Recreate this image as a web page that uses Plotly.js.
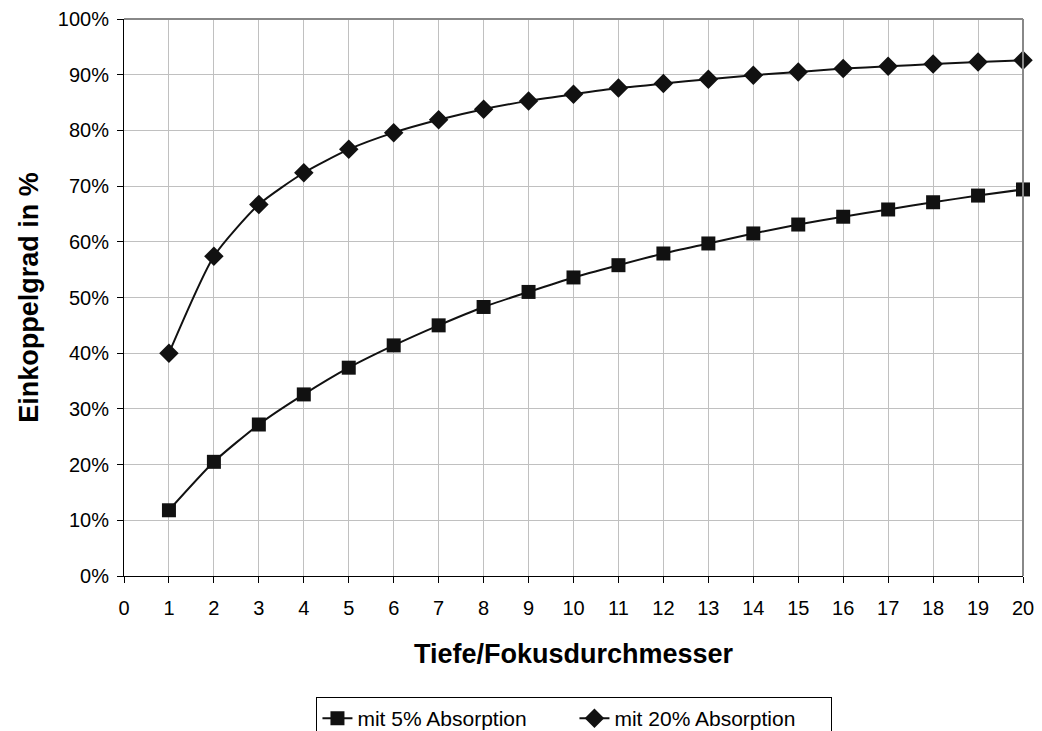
<!DOCTYPE html>
<html>
<head>
<meta charset="utf-8">
<script src="https://cdn.plot.ly/plotly-3.0.1.min.js"></script>
<style>html,body{margin:0;padding:0;background:#fff;}#chart{width:1042px;height:731px;}</style>
</head>
<body>
<div id="chart"></div>
<script>
const depth = [1,2,3,4,5,6,7,8,9,10,11,12,13,14,15,16,17,18,19,20];
const abs5 = [11.8,20.5,27.2,32.6,37.4,41.4,45.0,48.3,51.0,53.6,55.8,57.9,59.7,61.5,63.1,64.5,65.8,67.1,68.3,69.4];
const abs20 = [40.0,57.4,66.7,72.4,76.6,79.6,81.9,83.8,85.3,86.5,87.6,88.4,89.2,89.9,90.5,91.1,91.5,91.9,92.3,92.6];
const seriesNames = ['mit 5% Absorption','mit 20% Absorption'];
const xTitle = 'Tiefe/Fokusdurchmesser';
const yTitle = 'Einkoppelgrad in %';

const font = 'Arial, "Liberation Sans", sans-serif';
const traces = [
  {x: depth, y: abs5, name: seriesNames[0], type: 'scatter', mode: 'lines+markers',
   line: {color: '#111', width: 2, shape: 'spline', smoothing: 0.6},
   marker: {symbol: 'square', size: 14, color: '#111'}, cliponaxis: false},
  {x: depth, y: abs20, name: seriesNames[1], type: 'scatter', mode: 'lines+markers',
   line: {color: '#111', width: 2, shape: 'spline', smoothing: 0.6},
   marker: {symbol: 'diamond', size: 15, color: '#111'}, cliponaxis: false}
];
const layout = {
  width: 1042, height: 731,
  margin: {l: 124, r: 19, t: 19, b: 155},
  paper_bgcolor: '#fff', plot_bgcolor: '#fff',
  font: {family: font, color: '#000', size: 20},
  showlegend: true,
  legend: {orientation: 'h', xref: 'container', yref: 'container', x: 0.5513, xanchor: 'center', y: 0.0465, yanchor: 'top',
    bordercolor: '#000', borderwidth: 1, font: {size: 21, family: font},
    entrywidth: 212, tracegroupgap: 0},
  xaxis: {range: [0, 20], dtick: 1, tick0: 0, showgrid: true, gridcolor: '#c0c0c0', gridwidth: 1,
    showline: true, linecolor: '#000', linewidth: 1, ticks: 'outside', ticklen: 6, tickcolor: '#000',
    ticklabelstandoff: 8, automargin: false,
    tickfont: {size: 20, family: font}, zeroline: false, fixedrange: true,
    title: {text: '<b>' + xTitle + '</b>', font: {size: 27, family: font}, standoff: 26}},
  yaxis: {range: [0, 100], dtick: 10, tick0: 0, ticksuffix: '%', showgrid: true, gridcolor: '#c0c0c0', gridwidth: 1,
    showline: true, linecolor: '#000', linewidth: 1, ticks: 'outside', ticklen: 6, tickcolor: '#000',
    ticklabelstandoff: 4, automargin: false,
    tickfont: {size: 20, family: font}, zeroline: false, fixedrange: true,
    title: {text: '<b>' + yTitle + '</b>', font: {size: 27, family: font}, standoff: 11}},
  shapes: [
    {type: 'line', xref: 'paper', yref: 'paper', x0: 0, x1: 1, y0: 1, y1: 1, line: {color: '#888', width: 2}},
    {type: 'line', xref: 'paper', yref: 'paper', x0: 1, x1: 1, y0: 0, y1: 1, line: {color: '#888', width: 2}}
  ]
};
Plotly.newPlot('chart', traces, layout, {displayModeBar: false, staticPlot: true});
</script>
</body>
</html>
